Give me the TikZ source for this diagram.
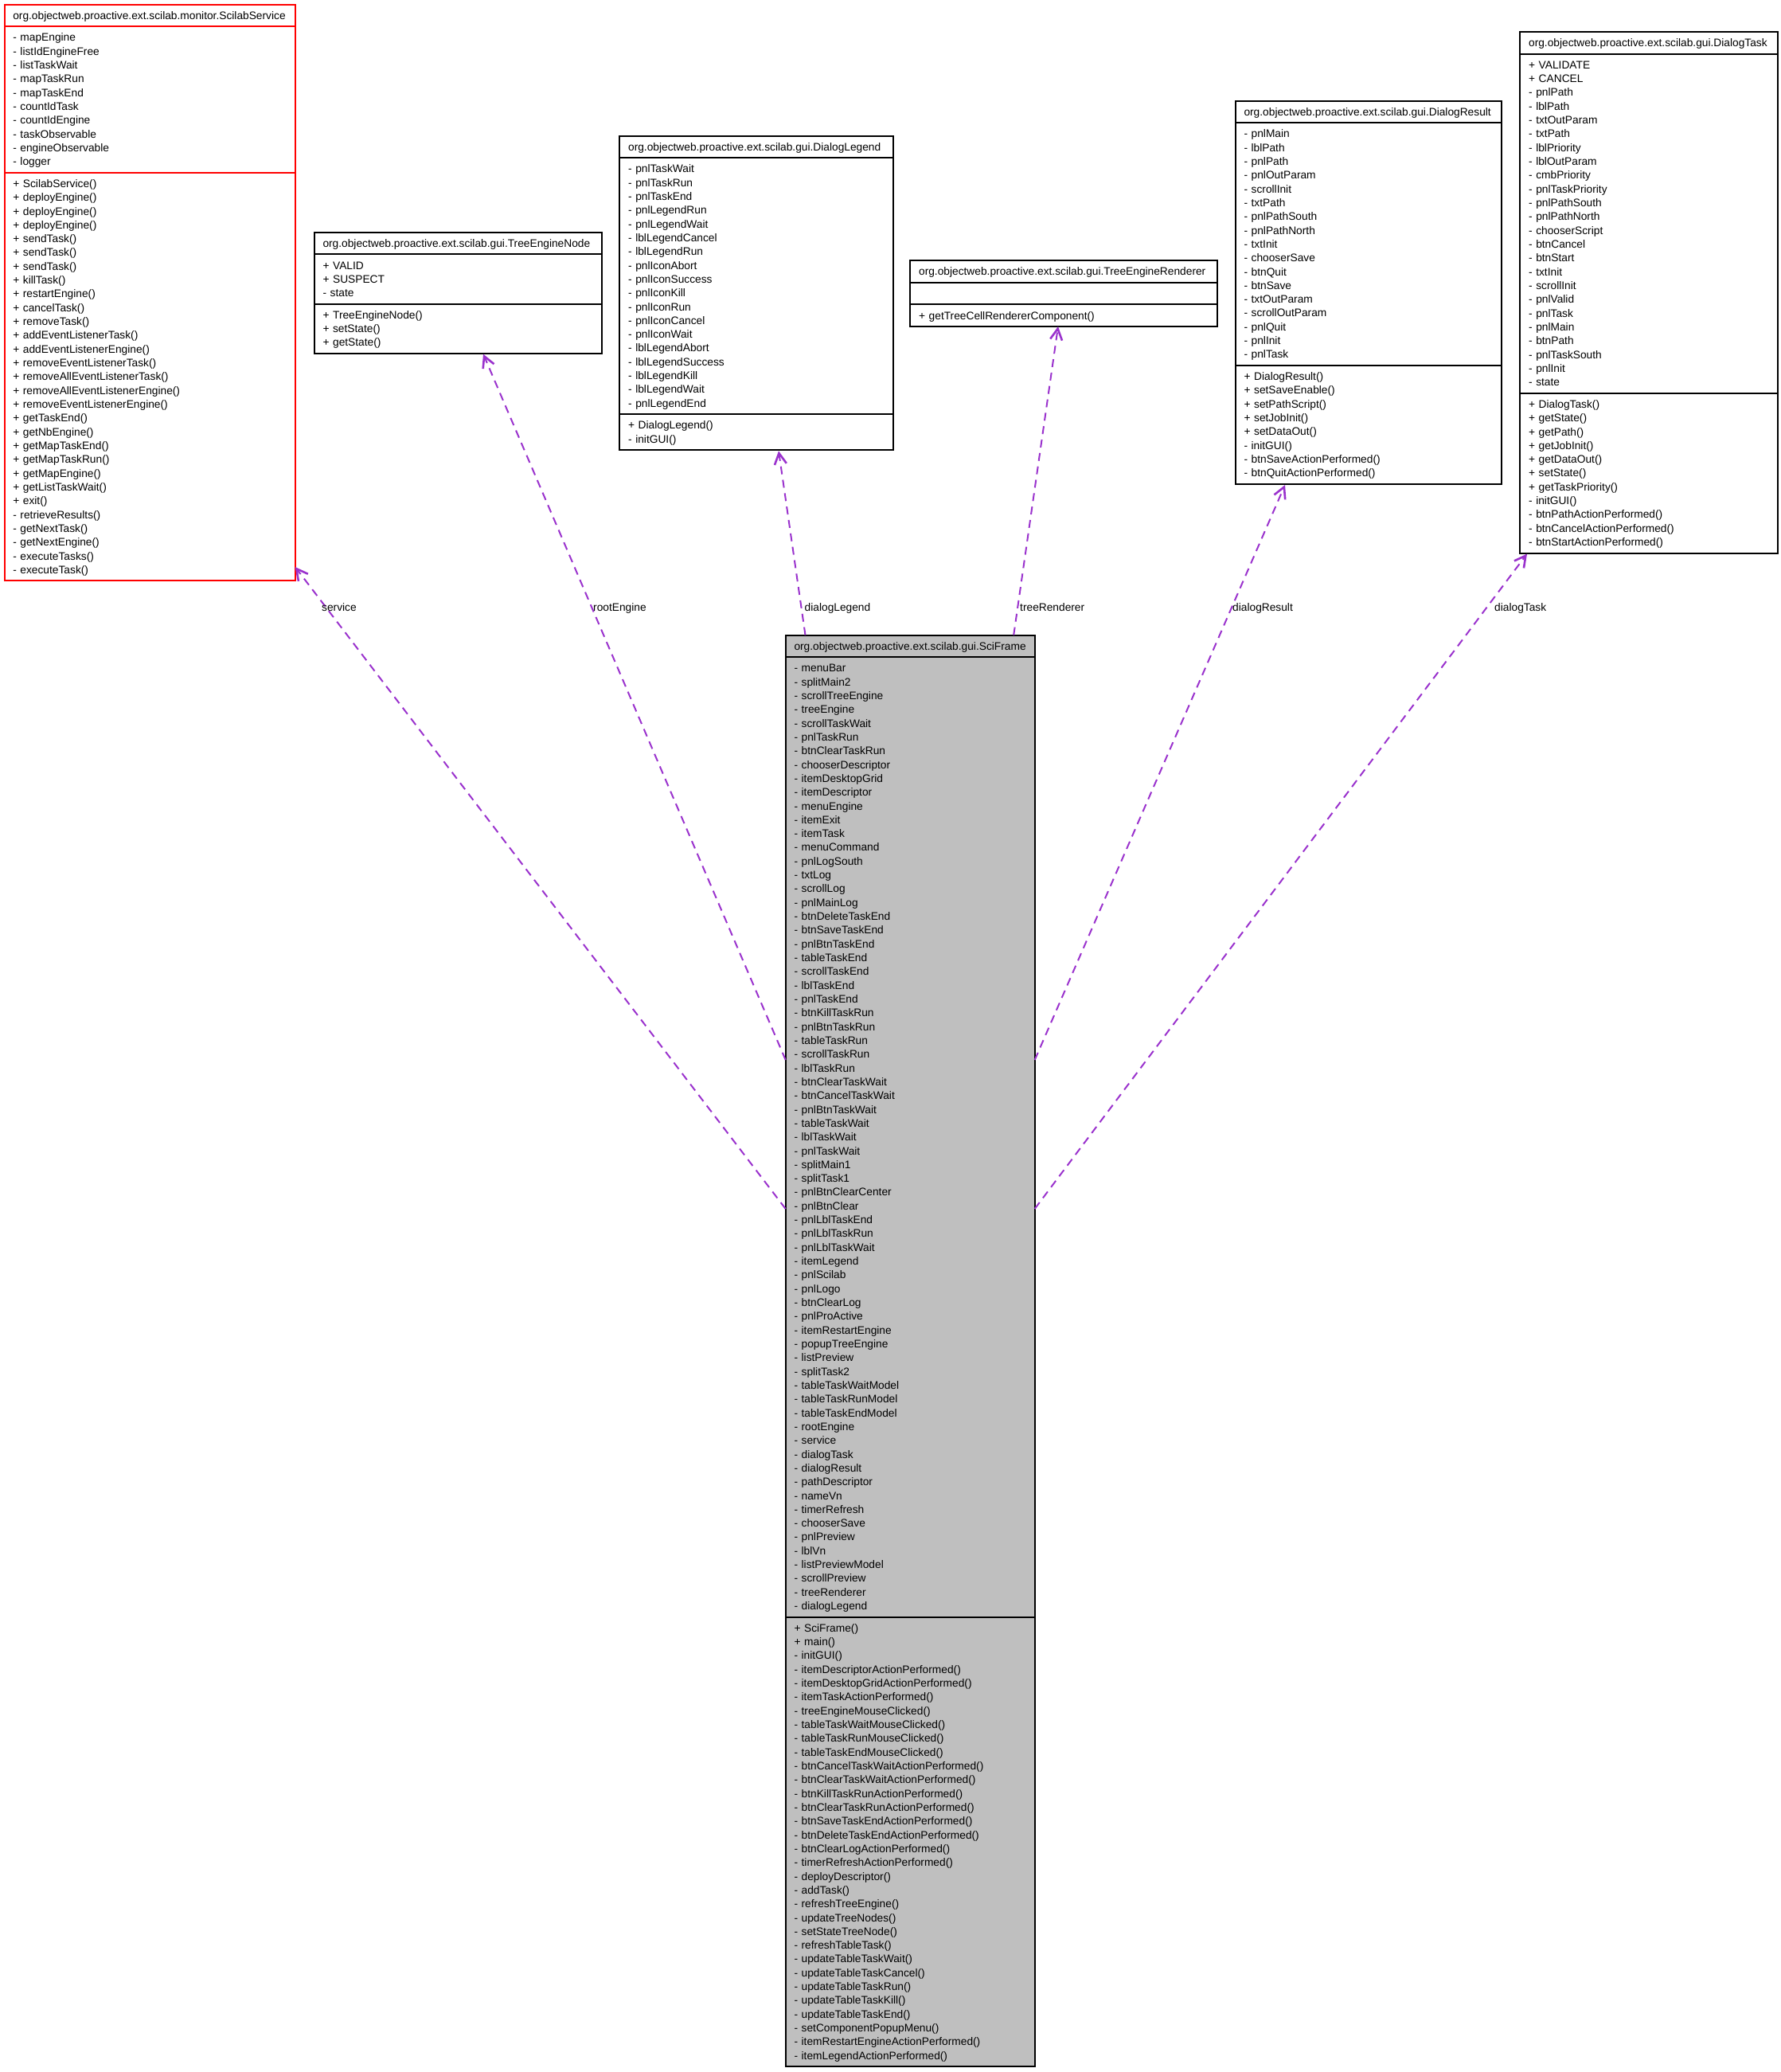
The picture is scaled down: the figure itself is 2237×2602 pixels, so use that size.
\documentclass[tikz,border=0pt]{standalone}
\usepackage{fontspec}
\setmainfont{Liberation Sans}
\usetikzlibrary{shapes.multipart,arrows.meta}
\definecolor{useColor}{HTML}{9A32CD}
\newcommand{\members}[1]{\rule{0pt}{13.4pt}#1\rule[-3.9pt]{0pt}{3.9pt}}
\begin{document}
\begin{tikzpicture}
[x=1pt,y=-1pt,%
  classBox/.style={rectangle split,rectangle split parts=3,draw,line width=2pt,%
    anchor=north west,outer sep=0pt,inner xsep=10.8pt,inner ysep=4.2pt,align=left,%
    font=\fontsize{13.75}{17.32}\selectfont,text width=#1-21.6pt},%
  useLine/.style={-{Straight Barb[length=14pt,width=15pt,line width=2.6pt]},line width=2pt,color=useColor,dash pattern=on 10pt off 7pt},%
  roleLabel/.style={anchor=base west,inner sep=0pt,font=\fontsize{13.75}{17.32}\selectfont}]
\path[use as bounding box] (0,0) rectangle (2237,2602);
%% classes
\node (scilabService) at (5.5,5.5) [classBox=365.2pt,draw=red]
{\members{org.objectweb.proactive.ext.scilab.monitor.ScilabService}
\nodepart{two}\members{- mapEngine\\- listIdEngineFree\\- listTaskWait\\- mapTaskRun\\- mapTaskEnd\\- countIdTask\\- countIdEngine\\- taskObservable\\- engineObservable\\- logger}
\nodepart{three}\members{+ ScilabService()\\+ deployEngine()\\+ deployEngine()\\+ deployEngine()\\+ sendTask()\\+ sendTask()\\+ sendTask()\\+ killTask()\\+ restartEngine()\\+ cancelTask()\\+ removeTask()\\+ addEventListenerTask()\\+ addEventListenerEngine()\\+ removeEventListenerTask()\\+ removeAllEventListenerTask()\\+ removeAllEventListenerEngine()\\+ removeEventListenerEngine()\\+ getTaskEnd()\\+ getNbEngine()\\+ getMapTaskEnd()\\+ getMapTaskRun()\\+ getMapEngine()\\+ getListTaskWait()\\+ exit()\\- retrieveResults()\\- getNextTask()\\- getNextEngine()\\- executeTasks()\\- executeTask()}};
\node (treeEngineNode) at (394.7,291.7) [classBox=361.3pt]
{\members{org.objectweb.proactive.ext.scilab.gui.TreeEngineNode}
\nodepart{two}\members{+ VALID\\+ SUSPECT\\- state}
\nodepart{three}\members{+ TreeEngineNode()\\+ setState()\\+ getState()}};
\node (dialogLegend) at (778.3,170.5) [classBox=343.4pt]
{\members{org.objectweb.proactive.ext.scilab.gui.DialogLegend}
\nodepart{two}\members{- pnlTaskWait\\- pnlTaskRun\\- pnlTaskEnd\\- pnlLegendRun\\- pnlLegendWait\\- lblLegendCancel\\- lblLegendRun\\- pnlIconAbort\\- pnlIconSuccess\\- pnlIconKill\\- pnlIconRun\\- pnlIconCancel\\- pnlIconWait\\- lblLegendAbort\\- lblLegendSuccess\\- lblLegendKill\\- lblLegendWait\\- pnlLegendEnd}
\nodepart{three}\members{+ DialogLegend()\\- initGUI()}};
\node (treeEngineRenderer) at (1143.3,327) [classBox=385.7pt]
{\members{org.objectweb.proactive.ext.scilab.gui.TreeEngineRenderer}
\nodepart{two}\members{}
\nodepart{three}\members{+ getTreeCellRendererComponent()}};
\node (dialogResult) at (1551.7,126.5) [classBox=334pt]
{\members{org.objectweb.proactive.ext.scilab.gui.DialogResult}
\nodepart{two}\members{- pnlMain\\- lblPath\\- pnlPath\\- pnlOutParam\\- scrollInit\\- txtPath\\- pnlPathSouth\\- pnlPathNorth\\- txtInit\\- chooserSave\\- btnQuit\\- btnSave\\- txtOutParam\\- scrollOutParam\\- pnlQuit\\- pnlInit\\- pnlTask}
\nodepart{three}\members{+ DialogResult()\\+ setSaveEnable()\\+ setPathScript()\\+ setJobInit()\\+ setDataOut()\\- initGUI()\\- btnSaveActionPerformed()\\- btnQuitActionPerformed()}};
\node (dialogTask) at (1909.3,40) [classBox=324pt]
{\members{org.objectweb.proactive.ext.scilab.gui.DialogTask}
\nodepart{two}\members{+ VALIDATE\\+ CANCEL\\- pnlPath\\- lblPath\\- txtOutParam\\- txtPath\\- lblPriority\\- lblOutParam\\- cmbPriority\\- pnlTaskPriority\\- pnlPathSouth\\- pnlPathNorth\\- chooserScript\\- btnCancel\\- btnStart\\- txtInit\\- scrollInit\\- pnlValid\\- pnlTask\\- pnlMain\\- btnPath\\- pnlTaskSouth\\- pnlInit\\- state}
\nodepart{three}\members{+ DialogTask()\\+ getState()\\+ getPath()\\+ getJobInit()\\+ getDataOut()\\+ setState()\\+ getTaskPriority()\\- initGUI()\\- btnPathActionPerformed()\\- btnCancelActionPerformed()\\- btnStartActionPerformed()}};
\node (sciFrame) at (986.7,797.5) [classBox=313pt,fill=black!25]
{\members{org.objectweb.proactive.ext.scilab.gui.SciFrame}
\nodepart{two}\members{- menuBar\\- splitMain2\\- scrollTreeEngine\\- treeEngine\\- scrollTaskWait\\- pnlTaskRun\\- btnClearTaskRun\\- chooserDescriptor\\- itemDesktopGrid\\- itemDescriptor\\- menuEngine\\- itemExit\\- itemTask\\- menuCommand\\- pnlLogSouth\\- txtLog\\- scrollLog\\- pnlMainLog\\- btnDeleteTaskEnd\\- btnSaveTaskEnd\\- pnlBtnTaskEnd\\- tableTaskEnd\\- scrollTaskEnd\\- lblTaskEnd\\- pnlTaskEnd\\- btnKillTaskRun\\- pnlBtnTaskRun\\- tableTaskRun\\- scrollTaskRun\\- lblTaskRun\\- btnClearTaskWait\\- btnCancelTaskWait\\- pnlBtnTaskWait\\- tableTaskWait\\- lblTaskWait\\- pnlTaskWait\\- splitMain1\\- splitTask1\\- pnlBtnClearCenter\\- pnlBtnClear\\- pnlLblTaskEnd\\- pnlLblTaskRun\\- pnlLblTaskWait\\- itemLegend\\- pnlScilab\\- pnlLogo\\- btnClearLog\\- pnlProActive\\- itemRestartEngine\\- popupTreeEngine\\- listPreview\\- splitTask2\\- tableTaskWaitModel\\- tableTaskRunModel\\- tableTaskEndModel\\- rootEngine\\- service\\- dialogTask\\- dialogResult\\- pathDescriptor\\- nameVn\\- timerRefresh\\- chooserSave\\- pnlPreview\\- lblVn\\- listPreviewModel\\- scrollPreview\\- treeRenderer\\- dialogLegend}
\nodepart{three}\members{+ SciFrame()\\+ main()\\- initGUI()\\- itemDescriptorActionPerformed()\\- itemDesktopGridActionPerformed()\\- itemTaskActionPerformed()\\- treeEngineMouseClicked()\\- tableTaskWaitMouseClicked()\\- tableTaskRunMouseClicked()\\- tableTaskEndMouseClicked()\\- btnCancelTaskWaitActionPerformed()\\- btnClearTaskWaitActionPerformed()\\- btnKillTaskRunActionPerformed()\\- btnClearTaskRunActionPerformed()\\- btnSaveTaskEndActionPerformed()\\- btnDeleteTaskEndActionPerformed()\\- btnClearLogActionPerformed()\\- timerRefreshActionPerformed()\\- deployDescriptor()\\- addTask()\\- refreshTreeEngine()\\- updateTreeNodes()\\- setStateTreeNode()\\- refreshTableTask()\\- updateTableTaskWait()\\- updateTableTaskCancel()\\- updateTableTaskRun()\\- updateTableTaskKill()\\- updateTableTaskEnd()\\- setComponentPopupMenu()\\- itemRestartEngineActionPerformed()\\- itemLegendActionPerformed()}};
%% use relations, shifts from the north west corners
\foreach \tailx/\taily/\headnode/\headx/\heady in {0/-720.5/scilabService/365.2/-706.5, 0/-533.5/treeEngineNode/212.3/-153, 24.8/0/dialogLegend/199.7/-395.8, 286.5/0/treeEngineRenderer/185.7/-83, 313/-533.5/dialogResult/62.3/-482.5, 313/-720.5/dialogTask/8.7/-655.5}
{
  \draw[useLine] ([xshift=\tailx,yshift=\taily]sciFrame.north west) -- ([xshift=\headx,yshift=\heady]\headnode.north west);
}
%% role labels
\foreach \nodename/\x/\labeltext in {serviceRole/404/service, rootEngineRole/745/rootEngine, dialogLegendRole/1010.5/dialogLegend, treeRendererRole/1281/treeRenderer, dialogResultRole/1548/dialogResult, dialogTaskRole/1877/dialogTask}
{
  \node (\nodename) at (\x,767.7) [roleLabel] {\labeltext};
}
\end{tikzpicture}
\end{document}
